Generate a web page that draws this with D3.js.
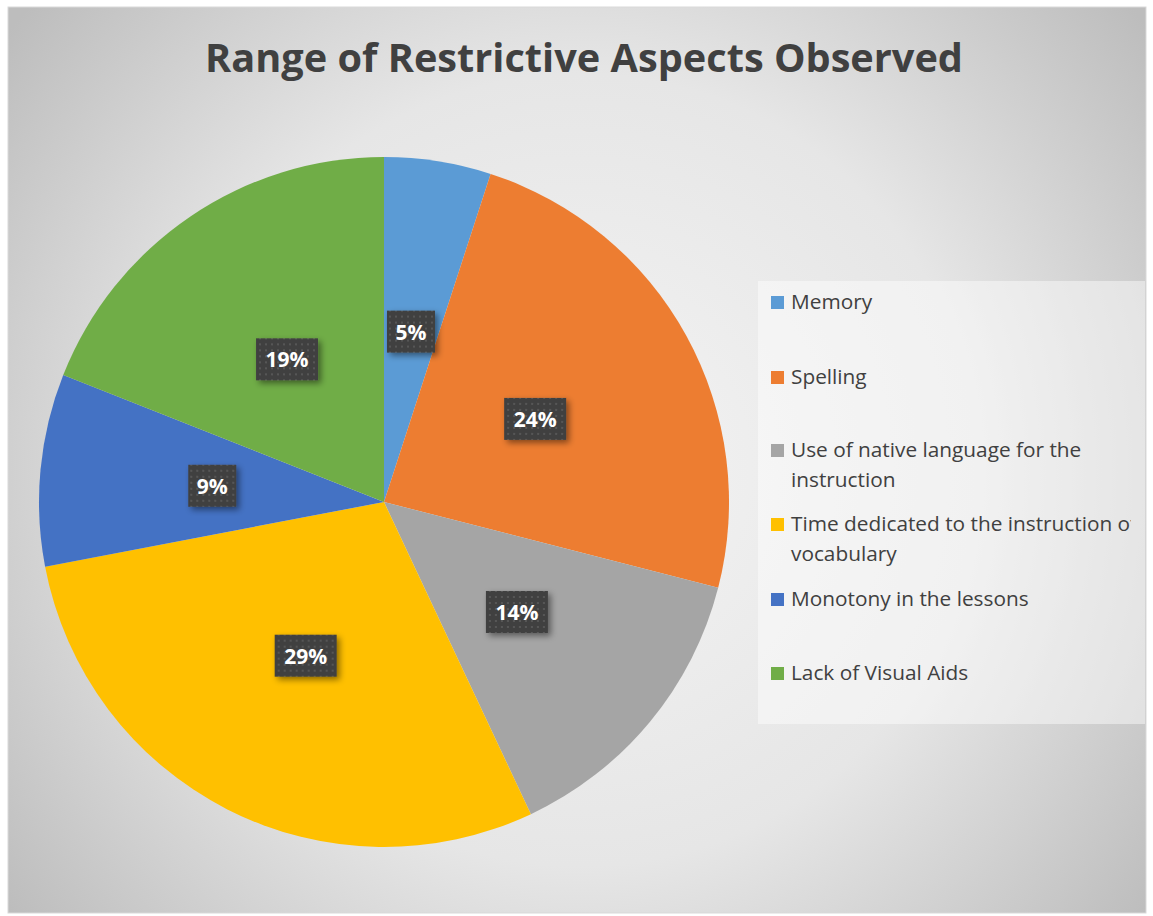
<!DOCTYPE html>
<html><head><meta charset="utf-8">
<script src="https://cdn.jsdelivr.net/npm/d3@7"></script>
<style>html,body{margin:0;padding:0;background:#fff;}svg{display:block;}</style>
</head><body>
<svg id="chart" width="1153" height="916"></svg>
<script>
const categories = ["Memory","Spelling","Use of native language  for the instruction","Time dedicated to the instruction of vocabulary","Monotony in the lessons","Lack of Visual Aids"];
const legendLines = [["Memory"],["Spelling"],["Use of native language  for the","instruction"],["Time dedicated to the instruction of","vocabulary"],["Monotony in the lessons"],["Lack of Visual Aids"]];
const values = [5,24,14,29,9,19];
const colors = ["#5b9bd5","#ed7d31","#a5a5a5","#ffc000","#4472c4","#70ad47"];
const title = "Range of Restrictive Aspects Observed";

const svg = d3.select("#chart");
const defs = svg.append("defs");
const bg = defs.append("radialGradient").attr("id","bg").attr("gradientUnits","userSpaceOnUse")
  .attr("cx",580).attr("cy",470).attr("r",720);
bg.append("stop").attr("offset","0").attr("stop-color","#f4f4f4");
bg.append("stop").attr("offset","0.55").attr("stop-color","#e6e6e6");
bg.append("stop").attr("offset","1").attr("stop-color","#bdbdbd");
const pat = defs.append("pattern").attr("id","dots").attr("patternUnits","userSpaceOnUse").attr("width",6).attr("height",6);
pat.append("rect").attr("width",6).attr("height",6).attr("fill","#404040");
pat.append("rect").attr("x",2).attr("y",2).attr("width",2).attr("height",2).attr("fill","#575757");
const sh = defs.append("filter").attr("id","shadow").attr("x","-30%").attr("y","-30%").attr("width","170%").attr("height","170%");
sh.append("feDropShadow").attr("dx",3).attr("dy",3).attr("stdDeviation",3).attr("flood-color","#000").attr("flood-opacity",0.45);
defs.append("clipPath").attr("id","legclip").append("rect").attr("x",758).attr("y",281).attr("width",373).attr("height",443);

svg.append("rect").attr("x",8).attr("y",7).attr("width",1138).attr("height",906)
  .attr("fill","url(#bg)").attr("stroke","#d9d9d9").attr("stroke-width",1);

svg.append("text").attr("x",584).attr("y",72).attr("text-anchor","middle")
  .attr("font-family","'Open Sans', sans-serif").attr("font-weight","bold").attr("font-size",39)
  .attr("fill","#404040").attr("textLength",758).attr("lengthAdjust","spacingAndGlyphs").text(title);

const cx = 384, cy = 502, R = 345;
const pie = d3.pie().sort(null).value(d => d);
const arcs = pie(values);
const arc = d3.arc().innerRadius(0).outerRadius(R);
const labelArc = d3.arc().innerRadius(R*0.5).outerRadius(R*0.5);
const g = svg.append("g").attr("transform",`translate(${cx},${cy})`);
g.selectAll("path").data(arcs).join("path").attr("d",arc).attr("fill",(d,i)=>colors[i]);

const lg = g.selectAll("g.lbl").data(arcs).join("g").attr("class","lbl")
  .attr("transform",d=>{const c=labelArc.centroid(d);return `translate(${c[0]},${c[1]})`;});
lg.each(function(d){
  const t = d.data + "%";
  const w = t.length === 2 ? 48 : 62;
  const s = d3.select(this);
  s.append("rect").attr("x",-w/2).attr("y",-21).attr("width",w).attr("height",42)
    .attr("fill","url(#dots)").attr("filter","url(#shadow)");
  s.append("text").attr("x",0).attr("y",8).attr("text-anchor","middle")
    .attr("font-family","'Open Sans', sans-serif").attr("font-weight","bold").attr("font-size",21)
    .attr("fill","#fff").text(t);
});

svg.append("rect").attr("x",758).attr("y",281).attr("width",387).attr("height",443)
  .attr("fill","#ffffff").attr("fill-opacity",0.45);
const leg = svg.append("g").attr("clip-path","url(#legclip)");
const itemY = [302,377,450,524,599,673];
categories.forEach((c,i)=>{
  const gi = leg.append("g").attr("transform",`translate(0,${itemY[i]})`);
  gi.append("rect").attr("x",771).attr("y",-6).attr("width",13).attr("height",13).attr("fill",colors[i]);
  legendLines[i].forEach((ln,j)=>{
    gi.append("text").attr("x",791).attr("y",7+j*30)
      .attr("font-family","'Open Sans', sans-serif").attr("font-size",20.8).attr("fill","#404040")
      .text(ln);
  });
});
</script>
</body></html>
